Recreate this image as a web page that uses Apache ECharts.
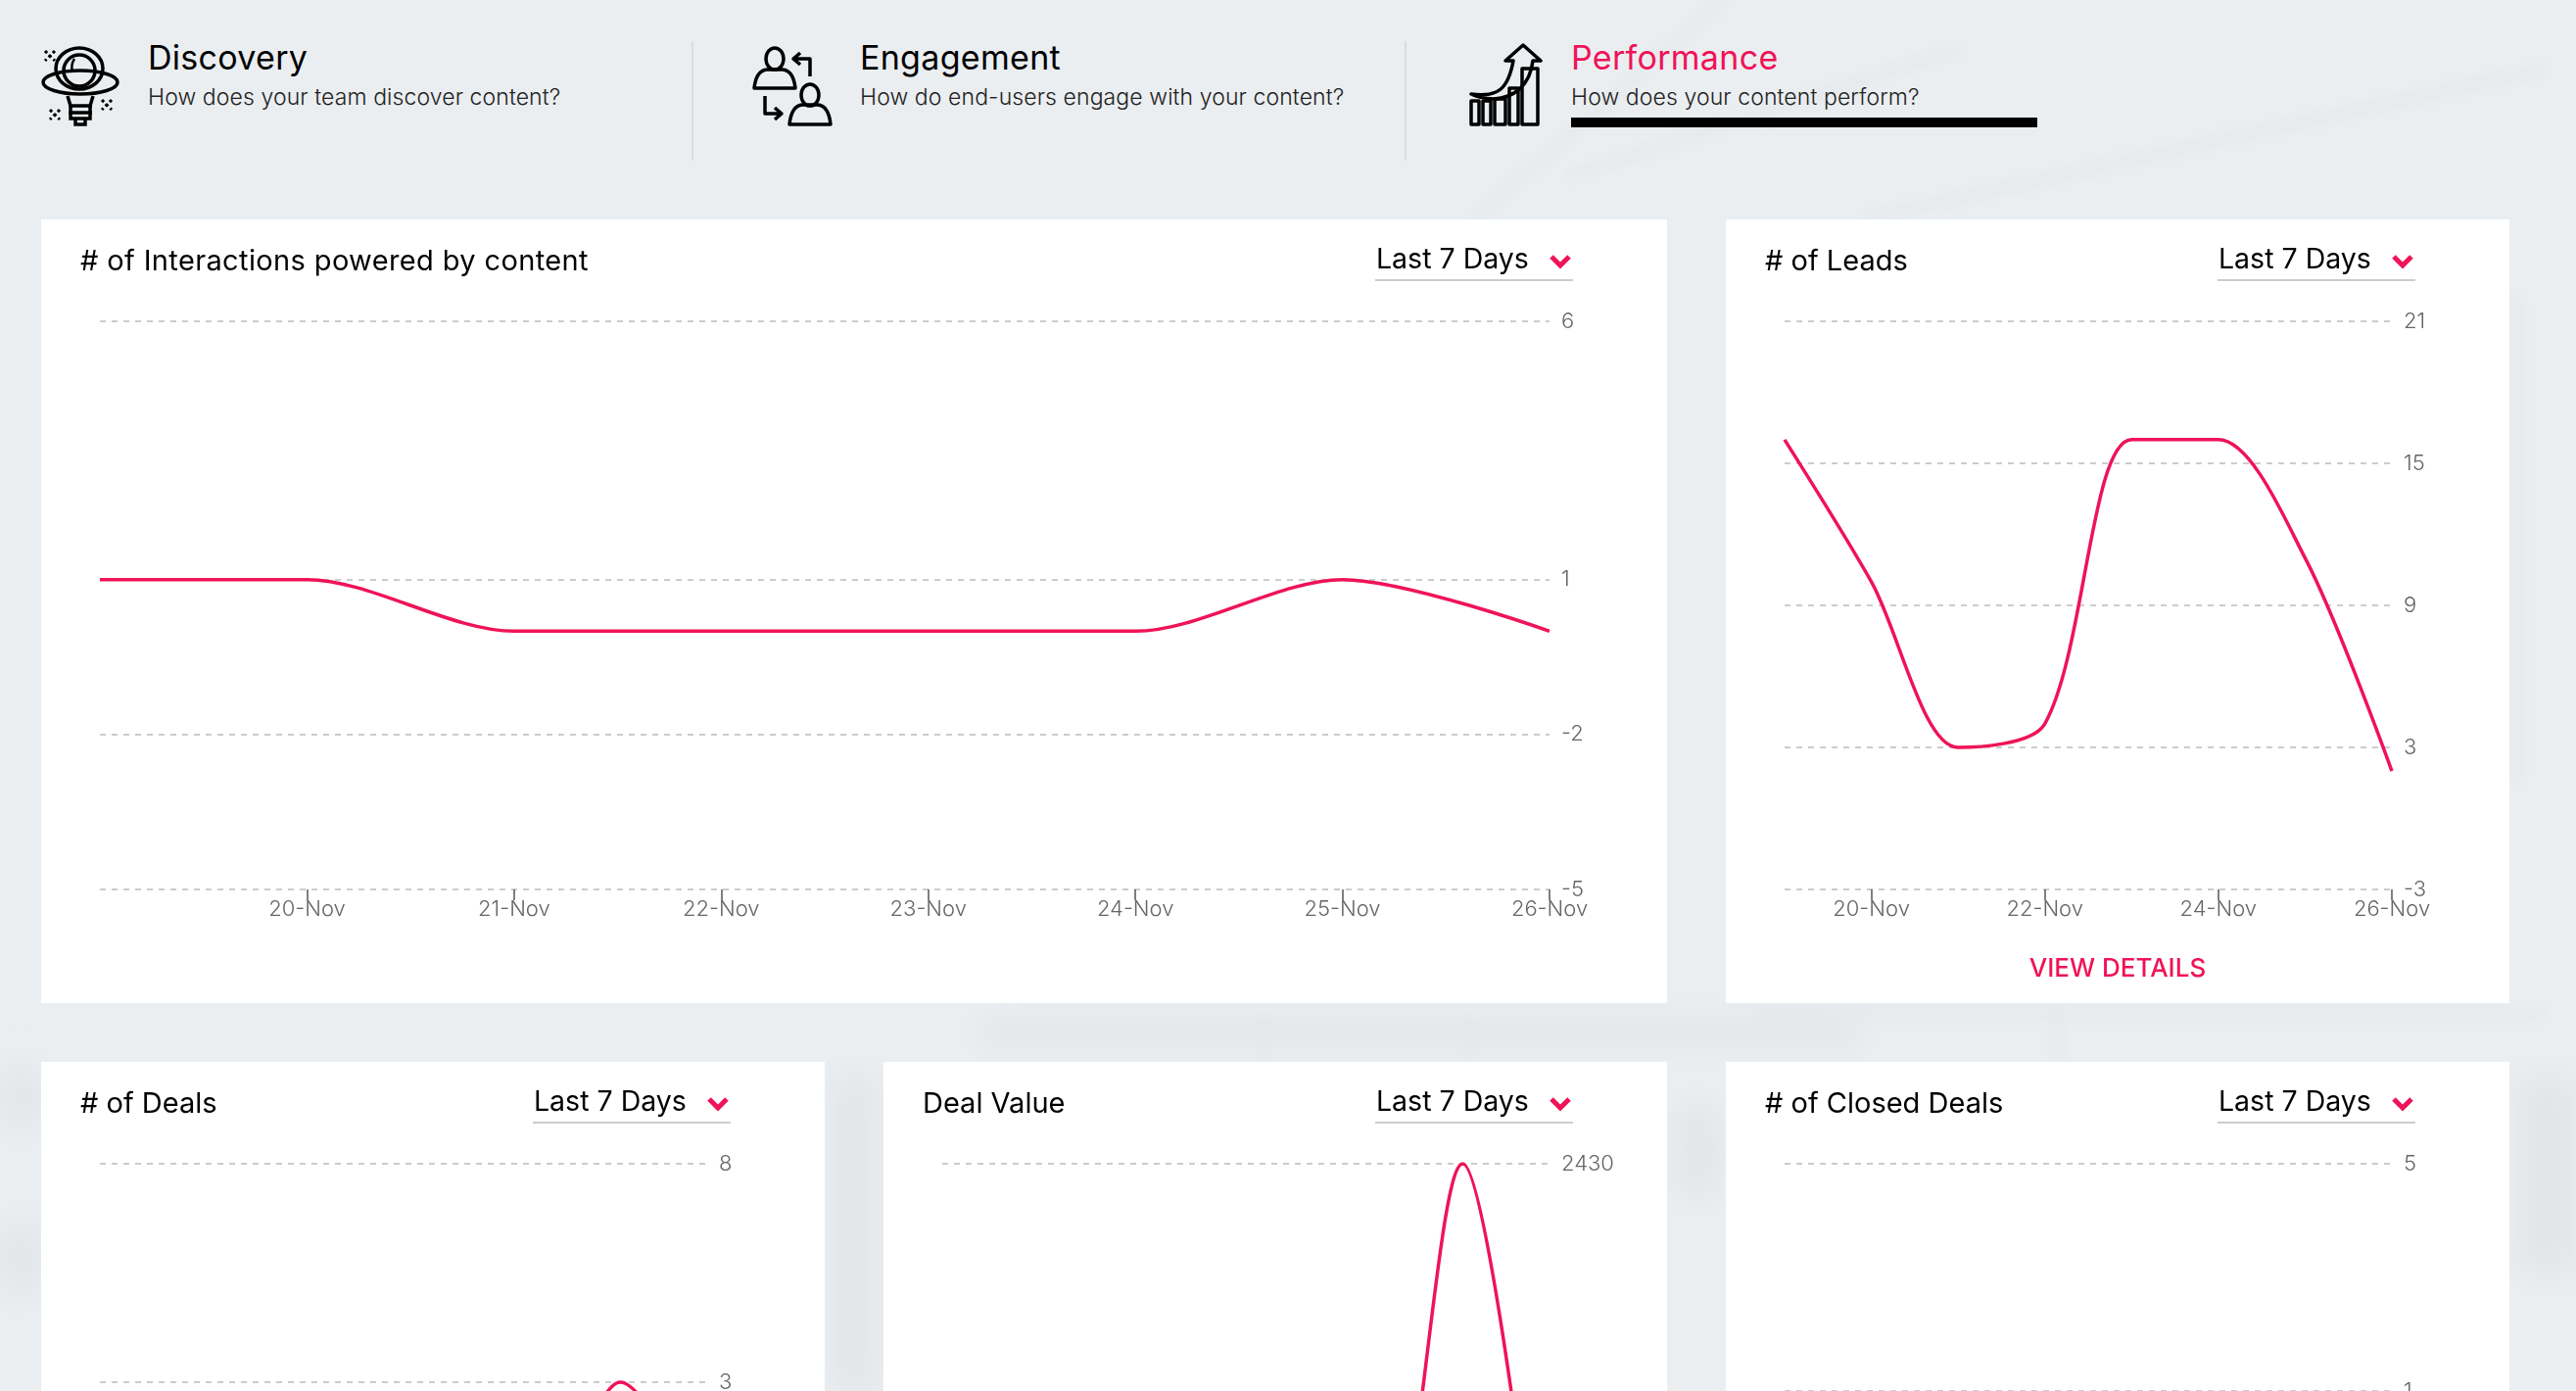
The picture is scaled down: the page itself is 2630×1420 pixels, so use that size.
<!DOCTYPE html>
<html>
<head>
<meta charset="utf-8">
<script src="https://cdn.jsdelivr.net/npm/echarts@6/dist/echarts.min.js"></script>
<style>
html, body { margin: 0; width: 2630px; height: 1420px; overflow: hidden; background: #ebeef1; font-family: Inter, "Noto Sans", sans-serif; color: #000; }
#art { position: absolute; left: 0; top: 0; }
.head { position: absolute; white-space: nowrap; }
.head b { display: block; font-weight: 400; font-size: 34px; line-height: 40px; letter-spacing: 0.3px; }
.head span { display: block; font-weight: 300; font-size: 23px; line-height: 30px; margin-top: 5px; letter-spacing: 0.1px; color: #222; }
.rule { position: absolute; top: 42px; width: 2px; height: 122px; background: #d9dde0; }
.card { position: absolute; width: 800px; height: 800px; background: #fff; }
.card .chart { position: absolute; left: 0; top: 0; width: 100%; height: 100%; }
.title { position: absolute; left: 40px; top: 22px; font-size: 29px; line-height: 40px; white-space: nowrap; z-index: 2; }
.pick { position: absolute; right: 96px; top: 20px; width: 202px; height: 41px; border-bottom: 2px solid #ccc; z-index: 2; font-size: 28.5px; line-height: 40px; white-space: nowrap; }
.pick span { margin-left: 1px; }
.pick svg { position: absolute; right: 1px; top: 15px; }
.more { position: absolute; left: 0; right: 0; top: 744px; text-align: center; font-size: 26px; line-height: 40px; font-weight: 500; color: #ef1358; z-index: 2; }
</style>
</head>
<body>
<svg id="art" width="2630" height="1420" viewBox="0 0 2630 1420" fill="none">
	<defs>
		<filter id="soft"><feGaussianBlur stdDeviation="7"/></filter>
		<filter id="softer"><feGaussianBlur stdDeviation="16"/></filter>
	</defs>
	<!-- faint sketch behind the cards -->
	<g filter="url(#soft)" stroke="#e3e6e9" stroke-width="7">
		<path d="M1760 0 L1504 224"/>
		<path d="M2000 50 L1600 180"/>
		<path d="M2600 70 L1900 224"/>
		<path d="M1790 1034 H2600 M1500 1040 V1084 M1290 1040 V1084 M2100 1040 V1084"/>
		<path d="M2570 300 V800"/>
	</g>
	<g filter="url(#softer)" fill="#e2e5e8">
		<rect x="0" y="1090" width="42" height="60"/>
		<rect x="0" y="1250" width="42" height="70"/>
		<rect x="850" y="1100" width="45" height="320"/>
		<rect x="1710" y="1130" width="45" height="90"/>
		<rect x="1000" y="1040" width="900" height="26"/>
		<rect x="2570" y="1100" width="60" height="200"/>
	</g>

	<!-- Discovery icon -->
	<g stroke="#000" stroke-width="3.5">
		<ellipse cx="81" cy="70" rx="24" ry="21"/>
		<ellipse cx="81" cy="72" rx="16" ry="16"/>
		<ellipse cx="82" cy="84" rx="38" ry="12"/>
		<path d="M69 98 L72 108 H92 L95 98 M70 108 H94 M70 115 H94 M72 108 V121 H92 V108 M77 121 V127 H87 V121"/>
		<path d="M76 60 Q72 66 74 74" stroke-width="2.5"/>
	</g>
	<g stroke="#000" stroke-width="3" stroke-dasharray="3 3">
		<path d="M46 52 L56 62 M56 52 L46 62 M51 112 L61 122 M61 112 L51 122 M104 102 L114 112 M114 102 L104 112"/>
	</g>

	<!-- Engagement icon -->
	<g stroke="#000" stroke-width="3.5" stroke-linejoin="round">
		<ellipse cx="791" cy="60" rx="9" ry="11"/>
		<path d="M770 90 Q772 72 783 71 H799 Q810 72 812 90 Z"/>
		<ellipse cx="827" cy="97" rx="9" ry="11"/>
		<path d="M806 127 Q808 108 819 107 H835 Q846 108 848 127 Z"/>
		<path d="M827 78 V60 H811 M817 54 L810 60 L817 66"/>
		<path d="M781 98 V116 H797 M791 110 L798 116 L791 122"/>
	</g>

	<!-- Performance icon -->
	<g stroke="#000" stroke-width="3.5" stroke-linejoin="round">
		<path d="M1502 127 V103 H1510 V127 Z M1514 127 V103 H1522 V127 Z M1526 127 V101 H1537 V127 Z M1541 127 V90 H1550 V127 Z M1554 127 V70 H1570 V127 Z"/>
		<path d="M1502 96 C1530 100 1540 90 1545 62 H1537 L1555 46 L1573 62 H1565 C1562 88 1545 100 1525 101 Q1510 100 1502 96 Z"/>
	</g>

	<rect x="1604" y="120" width="476" height="10" fill="#000"/>
</svg>

<div class="head" style="left:151px;top:39px"><b>Discovery</b><span>How does your team discover content?</span></div>
<div class="rule" style="left:706px"></div>
<div class="head" style="left:878px;top:39px"><b>Engagement</b><span>How do end-users engage with your content?</span></div>
<div class="rule" style="left:1434px"></div>
<div class="head" style="left:1604px;top:39px"><b style="color:#ef1358">Performance</b><span>How does your content perform?</span></div>

<script type="text/javascript">
	var days = ['19-Nov', '20-Nov', '21-Nov', '22-Nov', '23-Nov', '24-Nov', '25-Nov', '26-Nov'];

	var interactions = [1, 1, 0, 0, 0, 0, 1, 0];
	var leads = [16, 10, 3, 4, 16, 16, 11, 2];
	var deals = [0, 0, 0, 0, 0, 0, 3, 0];
	var dealValue = [0, 0, 0, 0, 0, 150, 2430, 0];
	var closedDeals = [0, 0, 0, 0, 0, 0, 0, 0];

	var interactionTicks = [6, 1, -2, -5];
	var leadTicks = [21, 15, 9, 3, -3];
	var dealTicks = [8, 3, -1, -5];
	var dealValueTicks = [2430, 1000, -200];
	var closedDealTicks = [5, 1, -2, -5];

	var PINK = '#ef1358';
	var FONT = 'Inter';

	function addCard(left, top, width, title, values, ticks, labelStep, withLink, titleSpacing) {
		var card = document.createElement('div');
		card.className = 'card';
		card.style.left = left + 'px';
		card.style.top = top + 'px';
		card.style.width = width + 'px';
		card.innerHTML = '<div class="title" style="letter-spacing:' + (titleSpacing || 0) + 'px">' + title + '</div>' +
			'<div class="pick"><span>Last 7 Days</span><svg width="24" height="16" viewBox="0 0 24 16"><path d="M3 3 L12 12 L21 3" fill="none" stroke="' + PINK + '" stroke-width="5"/></svg></div>' +
			'<div class="chart"></div>' +
			(withLink ? '<div class="more">VIEW DETAILS</div>' : '');
		document.body.appendChild(card);

		// first day never gets a label or tick
		function showDay(i) {
			return i > 0 && (i - 1) % labelStep == 0;
		}

		var myChart = echarts.init(card.querySelector('.chart'));
		myChart.setOption({
			animation: false,
			grid: { left: 60, top: 104, width: width - 180, height: 580 },
			xAxis: {
				type: 'category',
				data: days,
				boundaryGap: false,
				axisLine: { show: false, onZero: false },
				axisTick: { show: true, length: 11, interval: showDay, lineStyle: { color: '#555', width: 1.5 } },
				axisLabel: { interval: showDay, margin: 9, color: '#666', fontFamily: FONT, fontWeight: 300, fontSize: 22 },
				splitLine: { show: false }
			},
			yAxis: {
				type: 'value',
				position: 'right',
				min: ticks[ticks.length - 1],
				max: ticks[0],
				axisLine: { show: false },
				axisTick: { show: false, customValues: ticks },
				axisLabel: {
					customValues: ticks,
					margin: 12,
					padding: [5, 0, 0, 0],
					color: '#666',
					fontFamily: FONT,
					fontWeight: 300,
					fontSize: 22,
					formatter: function (v) { return String(v); }
				},
				splitLine: { show: true, lineStyle: { color: '#ccc', type: [6, 6], width: 2 } }
			},
			series: [{
				type: 'line',
				data: values,
				smooth: 0.3,
				showSymbol: false,
				lineStyle: { color: PINK, width: 3.5 }
			}]
		});
	}

	addCard(42, 224, 1660, '# of Interactions powered by content', interactions, interactionTicks, 1, false, 0.37);
	addCard(1762, 224, 800, '# of Leads', leads, leadTicks, 2, true);
	addCard(42, 1084, 800, '# of Deals', deals, dealTicks, 2, false);
	addCard(902, 1084, 800, 'Deal Value', dealValue, dealValueTicks, 2, false);
	addCard(1762, 1084, 800, '# of Closed Deals', closedDeals, closedDealTicks, 2, false);
</script>
</body>
</html>
